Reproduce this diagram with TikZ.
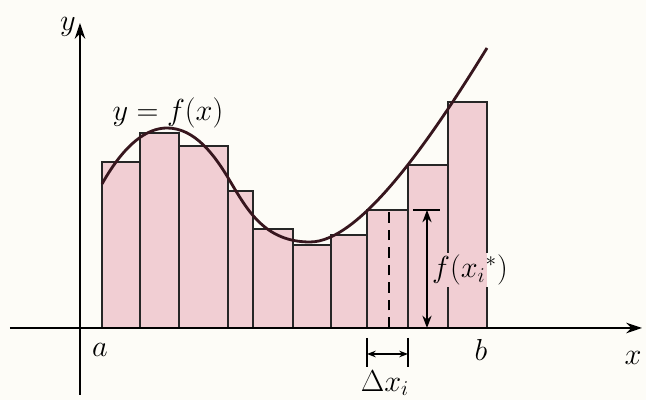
\documentclass[tikz,border=0pt]{standalone}
\usepackage{amsmath}
\usepackage{xcolor}
\usetikzlibrary{arrows.meta}
\definecolor{riemannpink}{RGB}{241,206,211}
\definecolor{paper}{RGB}{253,252,247}
\definecolor{curvecol}{RGB}{55,22,30}
\tikzset{
    bar/.style = {draw=black!85, fill=riemannpink, line width=0.9pt},
    axis/.style = {line width=0.9pt, -{Stealth[length=9pt, width=6pt]}},
    lbl/.style = {font=\LARGE},
}

\begin{document}
\begin{tikzpicture}
        \fill[paper] (-1.6,-1.44) rectangle (11.32,6.56);
        \useasboundingbox (-1.6,-1.44) rectangle (11.32,6.56);

        % rectangles
        \foreach \xl/\xr/\h in {0.44/1.20/3.32, 1.20/1.98/3.90, 1.98/2.96/3.64,
                2.96/3.46/2.74, 3.46/4.26/1.98, 4.26/5.02/1.66, 5.02/5.74/1.86,
                5.74/6.56/2.36, 6.56/7.36/3.26, 7.36/8.14/4.52} {
            \draw[bar] (\xl,0) rectangle (\xr,\h);
        }
        \coordinate (e10) at (8.14,0);

        % axes
        \coordinate (xs) at (-1.40,0);
        \coordinate (xe) at (11.24,0);
        \coordinate (ys) at (0,-1.34);
        \coordinate (ye) at (0,6.10);
        \draw[axis] (xs) -- (xe);
        \draw[axis] (ys) -- (ye);

        % curve
        \draw[curvecol, line width=1.6pt] (0.44,2.88)
            .. controls (0.90,3.70) and (1.35,4.00) .. (1.74,4.00)
            .. controls (2.30,4.00) and (2.70,3.45) .. (3.00,2.94)
            .. controls (3.35,2.35) and (3.70,1.72) .. (4.60,1.72)
            .. controls (5.60,1.72) and (7.00,3.75) .. (8.14,5.60);

        % sample point
        \coordinate (s0) at (6.18,0);
        \coordinate (s1) at (6.18,2.36);
        \draw[dashed, line width=0.9pt, dash pattern=on 6pt off 4pt] (s0) -- (s1);

        % height f(x_i*)
        \coordinate (t0) at (6.66,2.36);
        \coordinate (t1) at (7.20,2.36);
        \coordinate (h0) at (6.94,2.36);
        \coordinate (h1) at (6.94,0);
        \draw[line width=0.8pt] (t0) -- (t1);
        \draw[line width=0.8pt, {Stealth[length=7pt]}-{Stealth[length=7pt]}] (h0) -- (h1);

        % width Delta x_i
        \coordinate (d0) at (5.74,-0.20);
        \coordinate (d1) at (5.74,-0.78);
        \coordinate (d2) at (6.56,-0.20);
        \coordinate (d3) at (6.56,-0.78);
        \coordinate (m0) at (6.15,-0.52);
        \coordinate (ml) at (5.74,-0.52);
        \coordinate (mr) at (6.56,-0.52);
        \draw[line width=0.7pt] (d0) -- (d1);
        \draw[line width=0.7pt] (d2) -- (d3);
        \draw[line width=0.7pt, -{Stealth[length=5pt]}] (m0) -- (ml);
        \draw[line width=0.7pt, -{Stealth[length=5pt]}] (m0) -- (mr);

        % labels
        \node[lbl] (ylab) at (-0.24,6.02) {$y$};
        \node[lbl] (xlab) at (11.06,-0.60) {$x$};
        \node[lbl] (alab) at (0.40,-0.44) {$a$};
        \node[lbl] (blab) at (8.02,-0.44) {$b$};
        \node[lbl] (flab) at (1.76,4.30) {$y = f(x)$};
        \node[lbl, inner sep=1pt, path picture={
                \fill[riemannpink] (path picture bounding box.south west)
                    rectangle (e10 |- path picture bounding box.north);
                \fill[paper] (e10 |- path picture bounding box.south)
                    rectangle (path picture bounding box.north east);}]
            (hlab) at (7.80,1.16) {$f(x_i{}^*)$};
        \node[lbl] (dlab) at (6.10,-1.10) {$\Delta x_i$};
    \end{tikzpicture}
\end{document}
